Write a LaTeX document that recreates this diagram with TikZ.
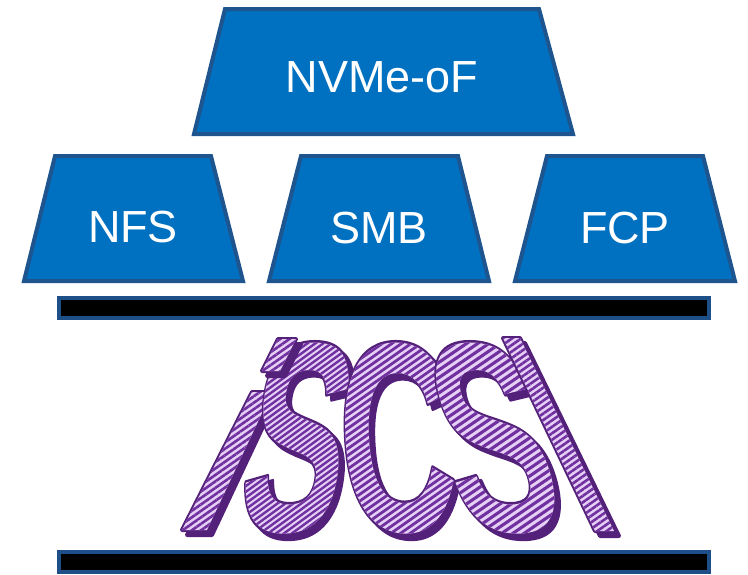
\documentclass[tikz,border=0pt]{standalone}
\usepackage{fontspec}
\setmainfont{Liberation Sans}
\usetikzlibrary{patterns.meta}
\definecolor{bxfill}{HTML}{0070C0}
\definecolor{bxline}{HTML}{1F558F}
\definecolor{barline}{HTML}{1E4F88}
\definecolor{wadark}{HTML}{54217A}
\definecolor{walav}{HTML}{E6D0F5}
\definecolor{wastripe}{HTML}{7030A0}
% raw PDF stripes (used inside a text clip)
\newcommand\mkstripes[2]{%
  \gdef#1{0.902 0.816 0.961 rg -60 -40 330 300 re f 0.439 0.188 0.627 RG 3 w}%
  \foreach \k in {-32,...,36}{%
    \pgfmathsetmacro\ya{\k*6.5}%
    \pgfmathsetmacro\yb{\k*6.5+320*#2}%
    \xdef#1{#1\space -60 \ya\space m 260 \yb\space l}%
  }%
  \xdef#1{#1\space S}%
}
\mkstripes\stripeA{0.46}
\mkstripes\stripeB{0.406}
\mkstripes\stripeC{0.35}
\newcommand\walet[2]{%
  \special{pdf:bcontent}%
  \rlap{\special{pdf:literal 2 Tr 5 w 1 j 0.329 0.129 0.478 RG}#1}%
  \rlap{\special{pdf:literal 7 Tr}#1}%
  \special{pdf:literal 0 Tr #2}%
  \special{pdf:econtent}%
  \phantom{#1}}
\newcommand\washad[1]{%
  \special{pdf:bcontent}%
  \rlap{\special{pdf:literal 2 Tr 5 w 1 j 0.329 0.129 0.478 RG}#1}%
  \special{pdf:literal 0 Tr}%
  \special{pdf:econtent}%
  \phantom{#1}}
\tikzset{
  trap/.style={draw=bxline, line width=4pt, fill=bxfill, line join=miter},
  traplabel/.style={text=white, font=\fontsize{45}{45}\selectfont, anchor=base, inner sep=0pt},
  barbox/.style={draw=barline, line width=4pt, fill=black},
  wapoly/.style={preaction={draw=wadark, line width=4pt, line join=round}, fill=walav,
    postaction={pattern={Lines[angle=35,distance=5.3pt,line width=2.6pt]}, pattern color=wastripe}},
  washadow/.style={draw=wadark, fill=wadark, line width=4pt, line join=round},
  wafront/.style={transform shape, anchor=base, inner sep=0pt, text=walav,
    font=\fontsize{270}{270}\selectfont\bfseries},
  waback/.style={transform shape, anchor=base, inner sep=0pt, text=wadark,
    font=\fontsize{270}{270}\selectfont\bfseries},
}
\newcommand\waletter[6]{%
  \begin{scope}[shift={(#2,531)}, xslant=#3, xscale=#4]
    \node[wafront] (#1) at (0,0) {\walet{#5}{#6}};
  \end{scope}}
\newcommand\washadow[5]{%
  \begin{scope}[shift={(#2,531)}, xshift=5pt, yshift=-5pt, xslant=#3, xscale=#4]
    \node[waback] (#1) at (0,0) {\washad{#5}};
  \end{scope}}
\begin{document}
\begin{tikzpicture}[x=1pt,y=-1pt]
\useasboundingbox (0,0) rectangle (748,574);
% protocol boxes
\draw[trap] (225,9) -- (539,9) -- (573,134) -- (194,134) -- cycle;
\node[traplabel] (nvme) at (382,92) {NVMe-oF};
\draw[trap] (55,156) -- (211,156) -- (243,281) -- (24,281) -- cycle;
\node[traplabel] (nfs) at (133,242) {NFS};
\draw[trap] (301,156) -- (458,156) -- (489,281) -- (269,281) -- cycle;
\node[traplabel] (smb) at (379,243) {SMB};
\draw[trap] (547,156) -- (703,156) -- (735,281) -- (515,281) -- cycle;
\node[traplabel] (fcp) at (625,243) {FCP};
% bars
\draw[barbox] (59,298) rectangle (709,318);
\draw[barbox] (59,552) rectangle (709,572);
% iSCSI word art: shadows
\begin{scope}[shift={(5,5)}]
  \draw[washadow] (182,530) -- (207,530) -- (272,392) -- (252,392) -- cycle;
  \draw[washadow] (503,338) -- (520,338) -- (614,531) -- (595,531) -- cycle;
\end{scope}
\washadow{s1b}{284}{0.16}{0.56}{S}
\washadow{cb}{402}{-0.05}{0.6}{C}
\washadow{s2b}{517}{-0.25}{0.6}{S}
% iSCSI word art: letters
\path[wapoly] (182,530) -- (207,530) -- (272,392) -- (252,392) -- cycle;
\waletter{s1}{284}{0.16}{0.56}{S}{\stripeA}
\waletter{c}{402}{-0.05}{0.6}{C}{\stripeB}
\waletter{s2}{517}{-0.25}{0.6}{S}{\stripeC}
\path[wapoly] (503,338) -- (520,338) -- (614,531) -- (595,531) -- cycle;
% dot of the i, on top
\draw[washadow, shift={(5,5)}] (262,371) -- (280,371) -- (296,339) -- (278,339) -- cycle;
\path[wapoly] (262,371) -- (280,371) -- (296,339) -- (278,339) -- cycle;
\end{tikzpicture}
\end{document}
